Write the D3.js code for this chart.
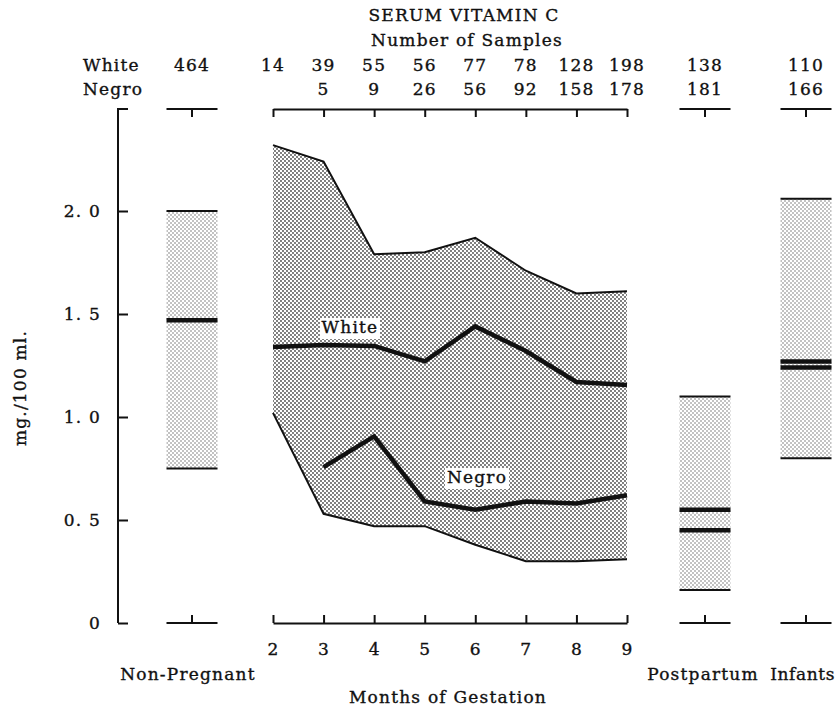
<!DOCTYPE html>
<html>
<head>
<meta charset="utf-8">
<script src="https://cdn.jsdelivr.net/npm/d3@7"></script>
<style>
  body { margin: 0; background: #fff; }
  svg text { font-family: 'DejaVu Serif', serif; font-size: 17px; fill: #111; letter-spacing: 1.2px; stroke: #111; stroke-width: 0.35px; }
</style>
</head>
<body>
<svg id="chart" width="838" height="708"></svg>
<script>
// months of gestation
const months = [2, 3, 4, 5, 6, 7, 8, 9]
const rangeHigh = [2.32, 2.24, 1.79, 1.80, 1.87, 1.71, 1.60, 1.61]
const rangeLow = [1.02, 0.53, 0.47, 0.47, 0.38, 0.30, 0.30, 0.31]
const whiteMean = [1.34, 1.35, 1.345, 1.27, 1.44, 1.32, 1.17, 1.155]
const negroMean = [null, 0.757, 0.906, 0.59, 0.55, 0.59, 0.58, 0.62]

// side groups
const groups = ['Non-Pregnant', 'Postpartum', 'Infants']
const groupLow = [0.75, 0.16, 0.80]
const groupHigh = [2.0, 1.10, 2.06]
const groupMeans = [[1.47], [0.55, 0.45], [1.27, 1.24]]

// number of samples, in order: non-pregnant, months 2..9, postpartum, infants
const whiteCounts = ['464', '14', '39', '55', '56', '77', '78', '128', '198', '138', '110']
const negroCounts = ['', '', '5', '9', '26', '56', '92', '158', '178', '181', '166']

const yTicks = [0, 0.5, 1.0, 1.5, 2.0]

const AXIS_TOP = 109
const BAR_W = 51
const INK = '#111'

const svg = d3.select('#chart')

const y = d3.scaleLinear().domain([0, 2]).range([623, 211])
const x = d3.scaleLinear().domain([2, 9]).range([273, 627])
const gx = d3.scaleOrdinal().domain(groups).range([192, 705, 806])

// stipple patterns
const defs = svg.append('defs')
function stipple (id, r, color) {
  const p = defs.append('pattern')
    .attr('id', id)
    .attr('patternUnits', 'userSpaceOnUse')
    .attr('width', 4).attr('height', 4)
  p.append('rect').attr('width', 4).attr('height', 4).attr('fill', '#fff')
  p.append('circle').attr('cx', 1).attr('cy', 1).attr('r', r).attr('fill', color)
  p.append('circle').attr('cx', 3).attr('cy', 3).attr('r', r).attr('fill', color)
}
stipple('dotsDark', 0.9, '#444')
stipple('dotsLight', 0.75, '#666')

function txt (sel) {
  return sel.style('font-size', '17px').style('font-family', "'DejaVu Serif', serif")
    .attr('fill', INK).attr('stroke', INK).attr('stroke-width', 0.35)
}

// titles
svg.append('text').attr('x', 464).attr('y', 21).attr('text-anchor', 'middle').text('SERUM VITAMIN C')
svg.append('text').attr('x', 467).attr('y', 46).attr('text-anchor', 'middle').text('Number of Samples')

// sample counts
const countX = [gx(groups[0])].concat(months.map(m => x(m)), [gx(groups[1]), gx(groups[2])])
svg.append('text').attr('x', 83).attr('y', 71).text('White')
svg.append('text').attr('x', 83).attr('y', 95).text('Negro')
svg.append('g').selectAll('text')
  .data(whiteCounts)
  .join('text')
  .attr('x', (d, i) => countX[i])
  .attr('y', 71)
  .attr('text-anchor', 'middle')
  .text(d => d)
svg.append('g').selectAll('text')
  .data(negroCounts)
  .join('text')
  .attr('x', (d, i) => countX[i])
  .attr('y', 95)
  .attr('text-anchor', 'middle')
  .text(d => d)

// y axis
const yAxis = d3.axisLeft(y)
  .tickValues(yTicks)
  .tickSizeInner(-10)
  .tickSizeOuter(0)
  .tickPadding(17)
  .tickFormat(d => d === 0 ? '0' : d3.format('.1f')(d).replace('.', '. '))
const gy = svg.append('g').attr('transform', 'translate(118,0)').call(yAxis)
gy.select('.domain').remove()
gy.selectAll('.tick line').attr('stroke', INK).attr('stroke-width', 2)
txt(gy.selectAll('.tick text'))
gy.append('path')
  .attr('d', `M10,${AXIS_TOP}H0V${y(0)}`)
  .attr('fill', 'none').attr('stroke', INK).attr('stroke-width', 2)

svg.append('text')
  .attr('transform', `translate(26,${388}) rotate(-90)`)
  .attr('text-anchor', 'middle')
  .text('mg./100 ml.')

// months axes
const xBottom = d3.axisBottom(x).tickValues(months).tickSizeInner(-8).tickSizeOuter(0).tickPadding(20).tickFormat(d3.format('d'))
const gxb = svg.append('g').attr('transform', `translate(0,${y(0)})`).call(xBottom)
const xTop = d3.axisTop(x).tickValues(months).tickSizeInner(-8).tickSizeOuter(0).tickFormat('')
const gxt = svg.append('g').attr('transform', `translate(0,${AXIS_TOP})`).call(xTop)
;[gxb, gxt].forEach(g => {
  g.selectAll('path, line').attr('stroke', INK).attr('stroke-width', 2)
  txt(g.selectAll('text'))
})

// gestation band
const rows = months.map((m, i) => ({ m, hi: rangeHigh[i], lo: rangeLow[i], w: whiteMean[i], n: negroMean[i] }))
const area = d3.area().x(d => x(d.m)).y0(d => y(d.lo)).y1(d => y(d.hi))
svg.append('path').datum(rows).attr('d', area).attr('fill', 'url(#dotsDark)')

const edge = key => d3.line().defined(d => d[key] != null).x(d => x(d.m)).y(d => y(d[key]))
svg.append('path').datum(rows).attr('d', edge('hi')).attr('fill', 'none').attr('stroke', INK).attr('stroke-width', 2)
svg.append('path').datum(rows).attr('d', edge('lo')).attr('fill', 'none').attr('stroke', INK).attr('stroke-width', 2)
svg.append('path').datum(rows).attr('d', edge('w')).attr('fill', 'none').attr('stroke', INK).attr('stroke-width', 4.5)
svg.append('path').datum(rows).attr('d', edge('n')).attr('fill', 'none').attr('stroke', INK).attr('stroke-width', 4.5)

function boxLabel (label, cx, base, w) {
  svg.append('rect').attr('x', cx - w / 2).attr('y', base - 15).attr('width', w).attr('height', 21).attr('fill', '#fff')
  svg.append('text').attr('x', cx).attr('y', base).attr('text-anchor', 'middle').text(label)
}
boxLabel('White', 350, 333, 60)
boxLabel('Negro', 477, 483, 64)

// side groups
groups.forEach((g, i) => {
  const cx = gx(g)
  const x0 = cx - BAR_W / 2
  svg.append('rect')
    .attr('x', x0).attr('width', BAR_W)
    .attr('y', y(groupHigh[i])).attr('height', y(groupLow[i]) - y(groupHigh[i]))
    .attr('fill', 'url(#dotsLight)')
  ;[groupHigh[i], groupLow[i]].forEach(v => {
    svg.append('line').attr('x1', x0).attr('x2', x0 + BAR_W).attr('y1', y(v)).attr('y2', y(v))
      .attr('stroke', INK).attr('stroke-width', 2)
  })
  groupMeans[i].forEach(v => {
    svg.append('line').attr('x1', x0).attr('x2', x0 + BAR_W).attr('y1', y(v)).attr('y2', y(v))
      .attr('stroke', INK).attr('stroke-width', 4.5)
  })
  // brackets top and bottom
  svg.append('path')
    .attr('d', `M${x0},${AXIS_TOP}H${x0 + BAR_W}M${cx},${AXIS_TOP}V${AXIS_TOP + 8}`)
    .attr('stroke', INK).attr('stroke-width', 2).attr('fill', 'none')
  svg.append('path')
    .attr('d', `M${x0},${y(0)}H${x0 + BAR_W}M${cx},${y(0)}V${y(0) - 8}`)
    .attr('stroke', INK).attr('stroke-width', 2).attr('fill', 'none')
})

svg.append('text').attr('x', 188).attr('y', 680).attr('text-anchor', 'middle').text('Non-Pregnant')
svg.append('text').attr('x', 703).attr('y', 680).attr('text-anchor', 'middle').text('Postpartum')
svg.append('text').attr('x', 835).attr('y', 680).attr('text-anchor', 'end').style('letter-spacing', '0.6px').text('Infants')
svg.append('text').attr('x', 448).attr('y', 703).attr('text-anchor', 'middle').text('Months of Gestation')
</script>
</body>
</html>
